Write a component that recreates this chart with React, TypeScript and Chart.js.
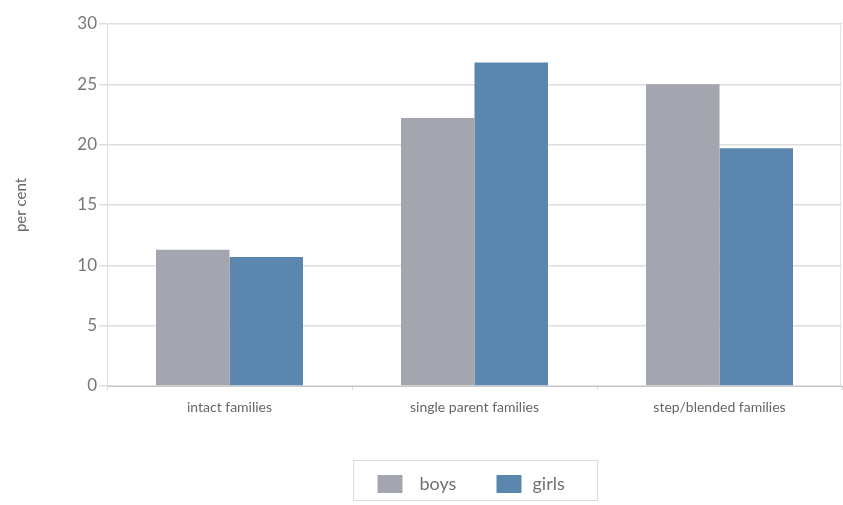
import React, { useEffect, useRef } from "react";
import { Chart, registerables } from "chart.js";

Chart.register(...registerables);

// Share of children (per cent) by family type
const categories = ["intact families", "single parent families", "step/blended families"];
const boys = [11.3, 22.2, 25.0];
const girls = [10.7, 26.8, 19.7];
const yTicks = [0, 5, 10, 15, 20, 25, 30];

const BOYS_COLOR = "#a3a6ae";
const GIRLS_COLOR = "#5b86ae";
const FONT = "Lato, 'Open Sans', sans-serif";

// Boxed legend under the plot, centred on the chart area, plus a faint right edge
const legendPlugin = {
  id: "boxedLegend",
  afterDraw(chart: any) {
    const { ctx, chartArea, height } = chart;
    const cx = (chartArea.left + chartArea.right) / 2;
    ctx.save();
    ctx.strokeStyle = "#e4e4e4";
    ctx.lineWidth = 1;
    ctx.beginPath();
    ctx.moveTo(chartArea.right - 1.5, chartArea.top);
    ctx.lineTo(chartArea.right - 1.5, chartArea.bottom);
    ctx.stroke();

    const top = height - 45;
    const bottom = height - 5;
    ctx.strokeStyle = "#dcdcdc";
    ctx.strokeRect(Math.round(cx - 122) + 0.5, top + 0.5, 244, bottom - top);

    const midY = (top + bottom) / 2 + 4;
    const items = [
      { text: chart.data.datasets[0].label, color: chart.data.datasets[0].backgroundColor, box: -97, label: -55 },
      { text: chart.data.datasets[1].label, color: chart.data.datasets[1].backgroundColor, box: 22, label: 58 },
    ];
    ctx.font = `18px ${FONT}`;
    ctx.textBaseline = "middle";
    ctx.textAlign = "left";
    for (const it of items) {
      ctx.fillStyle = it.color;
      ctx.fillRect(cx + it.box, midY - 9, 25, 18);
      ctx.fillStyle = "#707070";
      ctx.fillText(it.text, cx + it.label, midY);
    }
    ctx.restore();
  },
};

export default function App() {
  const ref = useRef<HTMLCanvasElement>(null);

  useEffect(() => {
    if (!ref.current) return;
    const chart = new Chart(ref.current, {
      type: "bar",
      data: {
        labels: categories,
        datasets: [
          { label: "boys", data: boys, backgroundColor: BOYS_COLOR, borderWidth: 0 },
          { label: "girls", data: girls, backgroundColor: GIRLS_COLOR, borderWidth: 0 },
        ],
      },
      options: {
        animation: false,
        responsive: true,
        maintainAspectRatio: false,
        layout: { padding: { left: 12, right: 1, top: 24, bottom: 70 } },
        datasets: { bar: { categoryPercentage: 0.6, barPercentage: 1.0 } },
        plugins: {
          tooltip: { enabled: false },
          legend: { display: false },
        },
        scales: {
          x: {
            offset: true,
            grid: { display: true, drawOnChartArea: false, offset: true, tickLength: 4, color: "#d8d8d8" },
            border: { color: "#c8c8c8" },
            ticks: { color: "#666", font: { family: FONT, size: 14 }, padding: 9 },
            afterFit(scale: any) {
              scale.height = 49;
            },
          },
          y: {
            min: 0,
            max: 30,
            afterBuildTicks(scale: any) {
              scale.ticks = yTicks.map((v) => ({ value: v }));
            },
            grid: { color: "#dedede", lineWidth: 1.5, drawTicks: true, tickLength: 8 },
            border: { color: "#e0e0e0", display: true },
            ticks: { color: "#777", font: { family: FONT, size: 17 }, padding: 2 },
            title: {
              display: true,
              text: "per cent",
              color: "#666",
              font: { family: FONT, size: 15 },
              padding: { top: 0, bottom: 30 },
            },
            afterFit(scale: any) {
              scale.width = 95;
            },
          },
        },
      },
      plugins: [legendPlugin],
    });
    return () => chart.destroy();
  }, []);

  return (
    <div style={{ position: "fixed", left: 0, top: 0, width: 843, height: 505, background: "#fff" }}>
      <canvas ref={ref} />
    </div>
  );
}
